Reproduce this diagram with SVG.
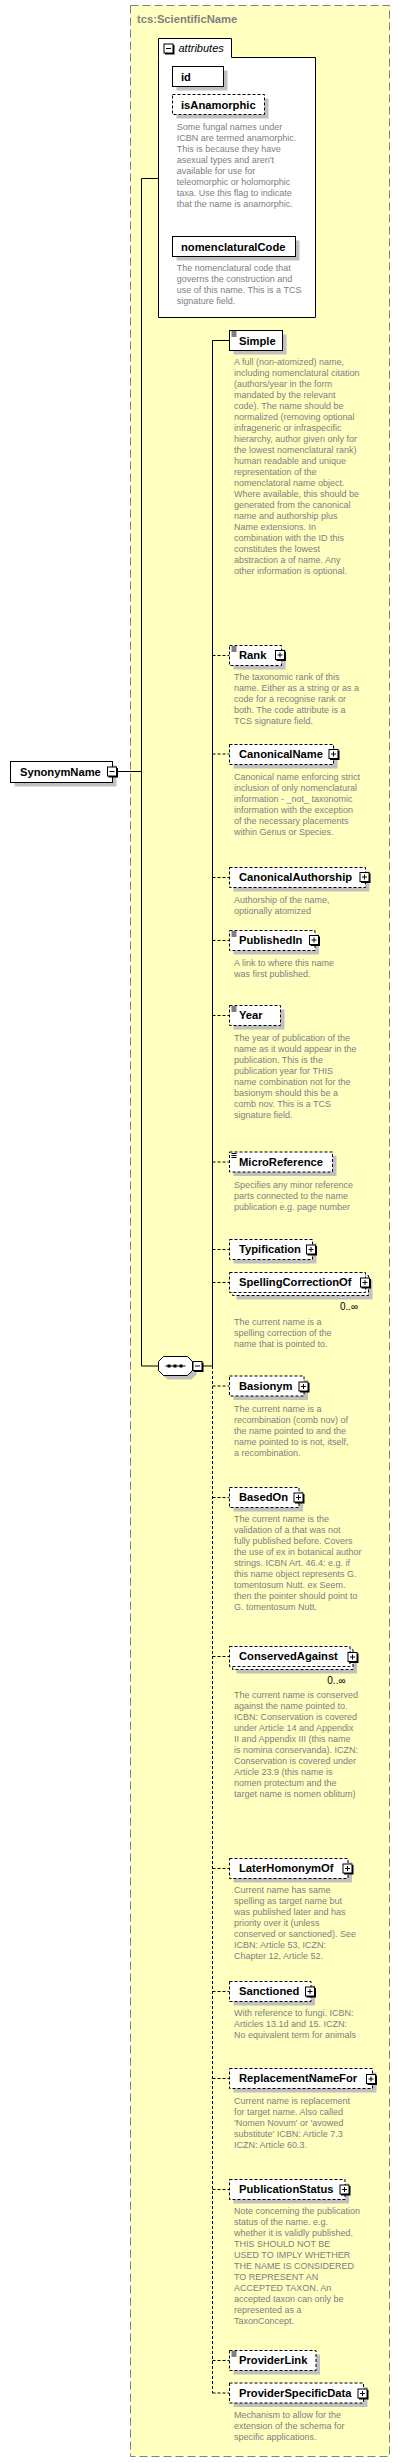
<svg xmlns="http://www.w3.org/2000/svg" xmlns:xlink="http://www.w3.org/1999/xlink" width="400" height="2463" viewBox="0 0 400 2463">
<style>
.n{font-family:"Liberation Sans",Arial,sans-serif;font-weight:bold;font-size:11.2px;fill:#000}
.d{font-family:"Liberation Sans",Arial,sans-serif;font-size:9px;fill:#808080}
.m{font-family:"Liberation Sans",Arial,sans-serif;font-size:10px;fill:#000}
.bx{fill:#fff;stroke:#000;stroke-width:1}
.op{stroke-dasharray:3,2}
.sh{fill:#c0c0c0}
.ln{fill:none;stroke:#000;stroke-width:1}
.dl{fill:none;stroke:#000;stroke-width:1;stroke-dasharray:3,2}
</style>
<defs>
<g id="plus"><rect x="1.5" y="1.5" width="9.5" height="9.5" fill="#000"/><rect x="0.5" y="0.5" width="9" height="9" fill="#fff" stroke="#000"/><path d="M2.5,5H7.5M5,2.5V7.5" stroke="#000" stroke-width="1"/></g>
<g id="minus"><rect x="1.5" y="1.5" width="9.5" height="9.5" fill="#000"/><rect x="0.5" y="0.5" width="9" height="9" fill="#fff" stroke="#000"/><path d="M2.5,5H7.5" stroke="#000" stroke-width="1"/></g>
<path id="icon" d="M2,1.5H7M2,3.5H7M2,5.5H7" stroke="#000" stroke-width="1" fill="none"/>
</defs>
<rect x="0" y="0" width="400" height="2463" fill="#fff"/>
<g id="ScientificName">
<rect x="130.5" y="5.5" width="259" height="2451" fill="#ffffc0" stroke="#808080" stroke-dasharray="8,4"/>
<text x="137" y="23" class="n" fill="#808080" style="fill:#808080">tcs:ScientificName</text>
</g>
<g id="connectors">
<path class="ln" d="M118,771.5H141.5M141.5,178.5V1366M141.5,178.5H158.5M141.5,1366H158.5M203,1366H212.5M212.5,340.5V1366M212.5,340.5H229.5"/>
<path class="dl" d="M212.5,1366V2393"/>
<path class="dl" d="M212.5,655.5H229.5M212.5,754H229.5M212.5,877.5H229.5M212.5,940.5H229.5M212.5,1015.5H229.5M212.5,1162H229.5M212.5,1249.5H229.5M212.5,1282.5H229.5M212.5,1386H229.5M212.5,1497.5H229.5M212.5,1656.5H229.5M212.5,1868.5H229.5M212.5,1991.5H229.5M212.5,2078.5H229.5M212.5,2189.5H229.5M212.5,2360.5H229.5M212.5,2393H229.5"/>
</g>
<g id="attributes">
<path d="M158.5,57.5V38.5H231.5V57.5H315.5V317.5H158.5Z" class="bx"/>
<use xlink:href="#minus" x="163.5" y="43.5"/>
<text x="178.5" y="52" font-family="Liberation Sans,Arial,sans-serif" font-style="italic" font-size="11">attributes</text>
</g>
<g id="id">
<rect x="176.5" y="70.5" width="51" height="20" class="sh"/>
<rect x="172.5" y="66.5" width="51" height="20" class="bx"/>
<text x="181" y="80.5" class="n">id</text>
</g>
<g id="isAnamorphic">
<rect x="176.5" y="98.5" width="92" height="20" class="sh"/>
<rect x="172.5" y="94.5" width="92" height="20" class="bx op"/>
<text x="181" y="108.5" class="n">isAnamorphic</text>
<text class="d" x="176.7" y="129.5"><tspan x="176.7"> Some fungal names under</tspan><tspan x="176.7" dy="11">ICBN are termed anamorphic.</tspan><tspan x="176.7" dy="11">This is because they have</tspan><tspan x="176.7" dy="11">asexual types and aren't</tspan><tspan x="176.7" dy="11">available for use for</tspan><tspan x="176.7" dy="11">teleomorphic or holomorphic</tspan><tspan x="176.7" dy="11">taxa. Use this flag to indicate</tspan><tspan x="176.7" dy="11">that the name is anamorphic.</tspan></text>
</g>
<g id="nomenclaturalCode">
<rect x="176.5" y="240.5" width="123" height="20" class="sh"/>
<rect x="172.5" y="236.5" width="123" height="20" class="bx"/>
<text x="181" y="250.5" class="n">nomenclaturalCode</text>
<text class="d" x="176.7" y="271"><tspan x="176.7"> The nomenclatural code that</tspan><tspan x="176.7" dy="11">governs the construction and</tspan><tspan x="176.7" dy="11">use of this name. This is a TCS</tspan><tspan x="176.7" dy="11">signature field.</tspan></text>
</g>
<g id="SynonymName">
<rect x="14.5" y="765.5" width="102" height="21" class="sh"/>
<rect x="10.5" y="761.5" width="102" height="21" class="bx"/>
<text x="20" y="776" class="n">SynonymName</text>
<use xlink:href="#minus" x="107" y="766.5"/>
</g>
<g id="sequence">
<path d="M167.5,1360.5H191.5L196.5,1365.5V1374.5L191.5,1379.5H167.5L162.5,1374.5V1365.5Z" class="sh"/>
<path d="M163.5,1356.5H187.5L192.5,1361.5V1370.5L187.5,1375.5H163.5L158.5,1370.5V1361.5Z" class="bx"/>
<path d="M165.5,1366H185.5" stroke="#000"/>
<rect x="167.5" y="1364.5" width="3" height="3"/><rect x="173.5" y="1364.5" width="3" height="3"/><rect x="179.5" y="1364.5" width="3" height="3"/>
<use xlink:href="#minus" x="192.5" y="1361"/>
</g>
<g id="Simple">
<rect x="233.5" y="334.5" width="53" height="20" class="sh"/>
<rect x="229.5" y="330.5" width="53" height="20" class="bx"/>
<use xlink:href="#icon" x="229.5" y="330.5"/>
<text x="239" y="344.5" class="n">Simple</text>
<text class="d" x="234" y="365"><tspan x="234"> A full (non-atomized) name,</tspan><tspan x="234" dy="11">including nomenclatural citation</tspan><tspan x="234" dy="11">(authors/year in the form</tspan><tspan x="234" dy="11">mandated by the relevant</tspan><tspan x="234" dy="11">code). The name should be</tspan><tspan x="234" dy="11">normalized (removing optional</tspan><tspan x="234" dy="11">infrageneric or infraspecific</tspan><tspan x="234" dy="11">hierarchy, author given only for</tspan><tspan x="234" dy="11">the lowest nomenclatural rank)</tspan><tspan x="234" dy="11">human readable and unique</tspan><tspan x="234" dy="11">representation of the</tspan><tspan x="234" dy="11">nomenclatoral name object.</tspan><tspan x="234" dy="11">Where available, this should be</tspan><tspan x="234" dy="11">generated from the canonical</tspan><tspan x="234" dy="11">name and authorship plus</tspan><tspan x="234" dy="11">Name extensions. In</tspan><tspan x="234" dy="11">combination with the ID this</tspan><tspan x="234" dy="11">constitutes the lowest</tspan><tspan x="234" dy="11">abstraction a of name. Any</tspan><tspan x="234" dy="11">other information is optional.</tspan></text>
</g>
<g id="Rank">
<rect x="233.5" y="649.5" width="52" height="20" class="sh"/>
<rect x="229.5" y="645.5" width="52" height="20" class="bx op"/>
<use xlink:href="#icon" x="229.5" y="645.5"/>
<text x="239" y="658.5" class="n">Rank</text>
<use xlink:href="#plus" x="275" y="650"/>
<text class="d" x="234" y="680"><tspan x="234"> The taxonomic rank of this</tspan><tspan x="234" dy="11">name. Either as a string or as a</tspan><tspan x="234" dy="11">code for a recognise rank or</tspan><tspan x="234" dy="11">both. The code attribute is a</tspan><tspan x="234" dy="11">TCS signature field.</tspan></text>
</g>
<g id="CanonicalName">
<rect x="233.5" y="748.5" width="104" height="20" class="sh"/>
<rect x="229.5" y="744.5" width="104" height="20" class="bx op"/>
<text x="239" y="757.5" class="n">CanonicalName</text>
<use xlink:href="#plus" x="328.5" y="749"/>
<text class="d" x="234" y="779.5"><tspan x="234">Canonical name enforcing strict</tspan><tspan x="234" dy="11">inclusion of only nomenclatural</tspan><tspan x="234" dy="11">information - _not_ taxonomic</tspan><tspan x="234" dy="11">information with the exception</tspan><tspan x="234" dy="11">of the necessary placements</tspan><tspan x="234" dy="11">within Genus or Species.</tspan></text>
</g>
<g id="CanonicalAuthorship">
<rect x="233.5" y="871.5" width="136" height="20" class="sh"/>
<rect x="229.5" y="867.5" width="136" height="20" class="bx op"/>
<text x="239" y="881" class="n">CanonicalAuthorship</text>
<use xlink:href="#plus" x="359.5" y="872"/>
<text class="d" x="234" y="902.5"><tspan x="234">Authorship of the name,</tspan><tspan x="234" dy="11">optionally atomized</tspan></text>
</g>
<g id="PublishedIn">
<rect x="233.5" y="934.5" width="85.5" height="20" class="sh"/>
<rect x="229.5" y="930.5" width="85.5" height="20" class="bx op"/>
<use xlink:href="#icon" x="229.5" y="930.5"/>
<text x="239" y="943.5" class="n">PublishedIn</text>
<use xlink:href="#plus" x="309" y="935"/>
<text class="d" x="234" y="965.5"><tspan x="234"> A link to where this name</tspan><tspan x="234" dy="11">was first published.</tspan></text>
</g>
<g id="Year">
<rect x="233.5" y="1009.5" width="51" height="20" class="sh"/>
<rect x="229.5" y="1005.5" width="51" height="20" class="bx op"/>
<use xlink:href="#icon" x="229.5" y="1005.5"/>
<text x="239" y="1018.5" class="n">Year</text>
<text class="d" x="234" y="1040.7"><tspan x="234"> The year of publication of the</tspan><tspan x="234" dy="11">name as it would appear in the</tspan><tspan x="234" dy="11">publication. This is the</tspan><tspan x="234" dy="11">publication year for THIS</tspan><tspan x="234" dy="11">name combination not for the</tspan><tspan x="234" dy="11">basionym should this be a</tspan><tspan x="234" dy="11">comb nov. This is a TCS</tspan><tspan x="234" dy="11">signature field.</tspan></text>
</g>
<g id="MicroReference">
<rect x="233.5" y="1156" width="103" height="20" class="sh"/>
<rect x="229.5" y="1152" width="103" height="20" class="bx op"/>
<use xlink:href="#icon" x="229.5" y="1152"/>
<text x="239" y="1165.5" class="n">MicroReference</text>
<text class="d" x="234" y="1187.5"><tspan x="234"> Specifies any minor reference</tspan><tspan x="234" dy="11">parts connected to the name</tspan><tspan x="234" dy="11">publication e.g. page number</tspan></text>
</g>
<g id="Typification">
<rect x="233.5" y="1243.5" width="83" height="20" class="sh"/>
<rect x="229.5" y="1239.5" width="83" height="20" class="bx op"/>
<text x="239" y="1252.5" class="n">Typification</text>
<use xlink:href="#plus" x="306" y="1244.5"/>
</g>
<g id="SpellingCorrectionOf">
<rect x="236.5" y="1279.5" width="136" height="20" class="sh"/>
<rect x="232.5" y="1275.5" width="136" height="20" class="bx op"/>
<rect x="229.5" y="1272.5" width="136" height="20" class="bx op"/>
<text x="239" y="1286" class="n">SpellingCorrectionOf</text>
<use xlink:href="#plus" x="360" y="1277.5"/>
<text x="340" y="1309.5" class="m">0..∞</text>
<text class="d" x="234" y="1324.5"><tspan x="234">The current name is a</tspan><tspan x="234" dy="11">spelling correction of the</tspan><tspan x="234" dy="11">name that is pointed to.</tspan></text>
</g>
<g id="Basionym">
<rect x="233.5" y="1380" width="74.5" height="20" class="sh"/>
<rect x="229.5" y="1376" width="74.5" height="20" class="bx op"/>
<text x="239" y="1389.5" class="n">Basionym</text>
<use xlink:href="#plus" x="298.5" y="1381.5"/>
<text class="d" x="234" y="1411.7"><tspan x="234"> The current name is a</tspan><tspan x="234" dy="11">recombination (comb nov) of</tspan><tspan x="234" dy="11">the name pointed to and the</tspan><tspan x="234" dy="11">name pointed to is not, itself,</tspan><tspan x="234" dy="11">a recombination.</tspan></text>
</g>
<g id="BasedOn">
<rect x="233.5" y="1491.5" width="69.5" height="20" class="sh"/>
<rect x="229.5" y="1487.5" width="69.5" height="20" class="bx op"/>
<text x="239" y="1500.5" class="n">BasedOn</text>
<use xlink:href="#plus" x="293.5" y="1492.5"/>
<text class="d" x="234" y="1522.3"><tspan x="234">The current name is the</tspan><tspan x="234" dy="11">validation of a that was not</tspan><tspan x="234" dy="11">fully published before. Covers</tspan><tspan x="234" dy="11">the use of ex in botanical author</tspan><tspan x="234" dy="11">strings. ICBN Art. 46.4: e.g. if</tspan><tspan x="234" dy="11">this name object represents G.</tspan><tspan x="234" dy="11">tomentosum Nutt. ex Seem.</tspan><tspan x="234" dy="11">then the pointer should point to</tspan><tspan x="234" dy="11">G. tomentosum Nutt.</tspan></text>
</g>
<g id="ConservedAgainst">
<rect x="236.5" y="1653.5" width="120.5" height="20" class="sh"/>
<rect x="232.5" y="1649.5" width="120.5" height="20" class="bx op"/>
<rect x="229.5" y="1646.5" width="120.5" height="20" class="bx op"/>
<text x="239" y="1660" class="n">ConservedAgainst</text>
<use xlink:href="#plus" x="347.5" y="1652"/>
<text x="327.3" y="1683.5" class="m">0..∞</text>
<text class="d" x="234" y="1698.3"><tspan x="234"> The current name is conserved</tspan><tspan x="234" dy="11">against the name pointed to.</tspan><tspan x="234" dy="11">ICBN: Conservation is covered</tspan><tspan x="234" dy="11">under Article 14 and Appendix</tspan><tspan x="234" dy="11">II and Appendix III (this name</tspan><tspan x="234" dy="11">is nomina conservanda). ICZN:</tspan><tspan x="234" dy="11">Conservation is covered under</tspan><tspan x="234" dy="11">Article 23.9 (this name is</tspan><tspan x="234" dy="11">nomen protectum and the</tspan><tspan x="234" dy="11">target name is nomen oblitum)</tspan></text>
</g>
<g id="LaterHomonymOf">
<rect x="233.5" y="1862.5" width="118.5" height="20" class="sh"/>
<rect x="229.5" y="1858.5" width="118.5" height="20" class="bx op"/>
<text x="239" y="1872" class="n">LaterHomonymOf</text>
<use xlink:href="#plus" x="342.5" y="1863.5"/>
<text class="d" x="234" y="1893.3"><tspan x="234"> Current name has same</tspan><tspan x="234" dy="11">spelling as target name but</tspan><tspan x="234" dy="11">was published later and has</tspan><tspan x="234" dy="11">priority over it (unless</tspan><tspan x="234" dy="11">conserved or sanctioned). See</tspan><tspan x="234" dy="11">ICBN: Article 53, ICZN:</tspan><tspan x="234" dy="11">Chapter 12, Article 52.</tspan></text>
</g>
<g id="Sanctioned">
<rect x="233.5" y="1985.5" width="81.5" height="20" class="sh"/>
<rect x="229.5" y="1981.5" width="81.5" height="20" class="bx op"/>
<text x="239" y="1994.5" class="n">Sanctioned</text>
<use xlink:href="#plus" x="305" y="1986.5"/>
<text class="d" x="234" y="2016"><tspan x="234"> With reference to fungi. ICBN:</tspan><tspan x="234" dy="11">Articles 13.1d and 15. ICZN:</tspan><tspan x="234" dy="11">No equivalent term for animals</tspan></text>
</g>
<g id="ReplacementNameFor">
<rect x="233.5" y="2072.5" width="143" height="20" class="sh"/>
<rect x="229.5" y="2068.5" width="143" height="20" class="bx op"/>
<text x="239" y="2082" class="n">ReplacementNameFor</text>
<use xlink:href="#plus" x="366" y="2074"/>
<text class="d" x="234" y="2103.7"><tspan x="234"> Current name is replacement</tspan><tspan x="234" dy="11">for target name. Also called</tspan><tspan x="234" dy="11">'Nomen Novum' or 'avowed</tspan><tspan x="234" dy="11">substitute' ICBN: Article 7.3</tspan><tspan x="234" dy="11">ICZN: Article 60.3.</tspan></text>
</g>
<g id="PublicationStatus">
<rect x="233.5" y="2183.5" width="115.5" height="20" class="sh"/>
<rect x="229.5" y="2179.5" width="115.5" height="20" class="bx op"/>
<text x="239" y="2192.5" class="n">PublicationStatus</text>
<use xlink:href="#plus" x="339.5" y="2184.5"/>
<text class="d" x="234" y="2214.3"><tspan x="234"> Note concerning the publication</tspan><tspan x="234" dy="11">status of the name. e.g.</tspan><tspan x="234" dy="11">whether it is validly published.</tspan><tspan x="234" dy="11">THIS SHOULD NOT BE</tspan><tspan x="234" dy="11">USED TO IMPLY WHETHER</tspan><tspan x="234" dy="11">THE NAME IS CONSIDERED</tspan><tspan x="234" dy="11">TO REPRESENT AN</tspan><tspan x="234" dy="11">ACCEPTED TAXON. An</tspan><tspan x="234" dy="11">accepted taxon can only be</tspan><tspan x="234" dy="11">represented as a</tspan><tspan x="234" dy="11">TaxonConcept.</tspan></text>
</g>
<g id="ProviderLink">
<rect x="233.5" y="2354.5" width="86.5" height="20" class="sh"/>
<rect x="229.5" y="2350.5" width="86.5" height="20" class="bx op"/>
<use xlink:href="#icon" x="229.5" y="2350.5"/>
<text x="239" y="2364" class="n">ProviderLink</text>
</g>
<g id="ProviderSpecificData">
<rect x="233.5" y="2387" width="134" height="20" class="sh"/>
<rect x="229.5" y="2383" width="134" height="20" class="bx op"/>
<text x="239" y="2396.5" class="n">ProviderSpecificData</text>
<use xlink:href="#plus" x="357.5" y="2388.5"/>
<text class="d" x="234" y="2418.3"><tspan x="234">Mechanism to allow for the</tspan><tspan x="234" dy="11">extension of the schema for</tspan><tspan x="234" dy="11">specific applications.</tspan></text>
</g>
</svg>
